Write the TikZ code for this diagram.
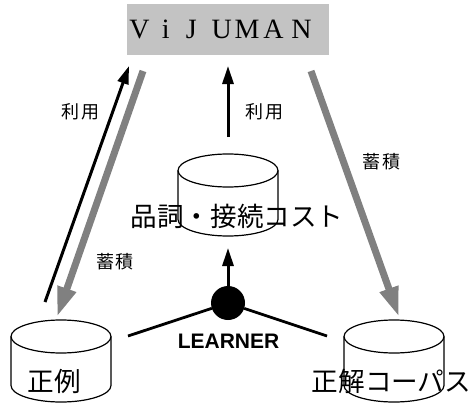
\documentclass[tikz,border=0pt]{standalone}
\usepackage{fontspec}
\setmainfont{Liberation Serif}
\newfontfamily\cjk{Noto Sans CJK JP}
\newfontfamily\arial{Liberation Sans}
\usetikzlibrary{arrows.meta}
\definecolor{boxgray}{RGB}{195,195,195}
\definecolor{arrowgray}{RGB}{128,128,128}
\newcommand{\dbdraw}[1]{%
  \draw[dbline] ([yshift=-16.5pt]#1.north) ellipse [x radius=50pt,y radius=16.5pt];
  \draw[dbline] ([yshift=-16.5pt]#1.north west) -- ([yshift=16.5pt]#1.south west)
    arc [start angle=180,end angle=360,x radius=50pt,y radius=16.5pt]
    -- ([yshift=-16.5pt]#1.north east);
}
\tikzset{
  x=1pt,y=-1pt,
  dbase/.style={rectangle,minimum width=100pt,minimum height=82pt,inner sep=0pt,outer sep=0pt},
  dbline/.style={draw=black,line width=1.2pt},
  jp/.style={font=\cjk\fontsize{#1}{#1}\selectfont,inner sep=0pt,text=black},
  thinarrow/.style={line width=3pt,-{Triangle[length=18pt,width=11pt]}},
  greyarrow/.style={line width=7pt,draw=arrowgray,-{Triangle[length=30pt,width=18pt,fill=arrowgray]}},
  spoke/.style={line width=2.8pt},
}
\begin{document}
\begin{tikzpicture}
\useasboundingbox (0,0) rectangle (471,404);
\node[fill=boxgray,minimum width=202pt,minimum height=51pt,inner sep=0pt,outer sep=0pt,font=\fontsize{28}{28}\selectfont,anchor=center] (vij) at (227.5,29.5) {V\hspace{12.5pt}i\hspace{16pt}J\hspace{15pt}U\hspace{2.7pt}M\hspace{4pt}A\hspace{7.8pt}N\kern14pt};
\node[dbase] (cost) at (228,195) {};
\node[dbase] (pos) at (61,361) {};
\node[dbase] (cor) at (394,361) {};
\dbdraw{cost}
\dbdraw{pos}
\dbdraw{cor}
\node[circle,fill=black,minimum size=34pt,inner sep=0pt,outer sep=0pt] (learner) at (228,303) {};
\coordinate (a1s) at (45,302); \coordinate (a1e) at (129,66);
\coordinate (a2s) at (143,71); \coordinate (a2e) at (57,317);
\coordinate (a3s) at (311,71); \coordinate (a3e) at (399,317);
\coordinate (a4s) at (228,137); \coordinate (a4e) at (228,66);
\coordinate (a5e) at (228,248);
\coordinate (l1) at (128,336); \coordinate (l2) at (327,336);
\draw[thinarrow] (a1s) -- (a1e);
\draw[greyarrow] (a2s) -- (a2e);
\draw[greyarrow] (a3s) -- (a3e);
\draw[thinarrow] (a4s) -- (a4e);
\draw[thinarrow] (learner) -- (a5e);
\draw[spoke] (learner) -- (l1);
\draw[spoke] (learner) -- (l2);
\node[jp=18] (t1) at (80.5,112) {利\hspace{2pt}用};
\node[jp=18] (t2) at (264,112) {利\hspace{2pt}用};
\node[jp=18] (t3) at (381,162) {蓄\hspace{2pt}積};
\node[jp=18] (t4) at (115,262) {蓄\hspace{2pt}積};
\node[jp=26.6] (t5) at (237,216) {品詞・接続コスト};
\node[jp=26.6] (t6) at (54.5,381) {正例};
\node[jp=26.6] (t7) at (391.5,381) {正解コーパス};
\node[inner sep=0pt,font=\arial\bfseries\fontsize{21}{21}\selectfont] (t8) at (228.5,341) {LEARNER};
\end{tikzpicture}
\end{document}
